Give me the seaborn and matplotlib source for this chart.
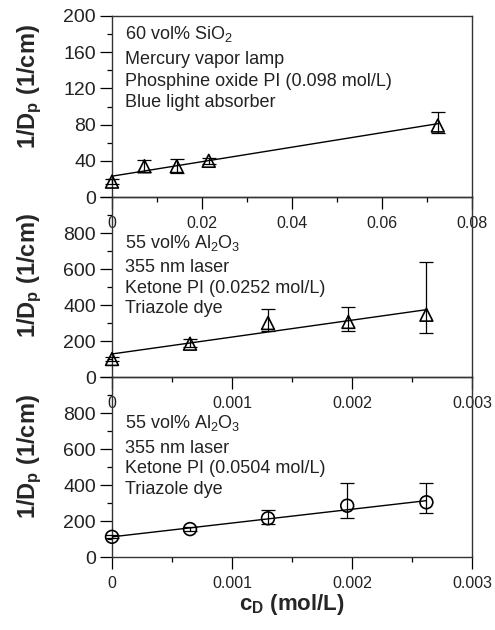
import matplotlib
matplotlib.use("Agg")
import matplotlib.pyplot as plt
from matplotlib.ticker import MultipleLocator
import seaborn as sns

sns.set_theme(style="ticks")
plt.rcParams["font.family"] = ["Liberation Sans", "DejaVu Sans"]
plt.rcParams["mathtext.fontset"] = "custom"
plt.rcParams["mathtext.rm"] = "Liberation Sans"
plt.rcParams["mathtext.it"] = "Liberation Sans"
plt.rcParams["mathtext.bf"] = "Liberation Sans:bold"

# --- Panel 1: 60 vol% SiO2, mercury vapor lamp ---
cd_sio2 = [0.0, 0.0072, 0.0144, 0.0215, 0.0724]
inv_dp_sio2 = [17, 34, 34, 40, 79]
err_lo_sio2 = [3, 6, 7, 3, 8]
err_hi_sio2 = [3, 7, 8, 3, 15]
fit_x_sio2 = [0.0, 0.0724]
fit_y_sio2 = [23, 81]

# --- Panel 2: 55 vol% Al2O3, ketone PI 0.0252 mol/L ---
cd_al_a = [0.0, 0.00065, 0.0013, 0.00197, 0.00262]
inv_dp_al_a = [100, 185, 300, 306, 346]
err_lo_al_a = [10, 20, 45, 48, 104]
err_hi_al_a = [10, 24, 76, 85, 291]
fit_x_al_a = [0.0, 0.00262]
fit_y_al_a = [128, 374]

# --- Panel 3: 55 vol% Al2O3, ketone PI 0.0504 mol/L ---
cd_al_b = [0.0, 0.00065, 0.0013, 0.00196, 0.00262]
inv_dp_al_b = [112, 155, 215, 285, 304]
err_lo_al_b = [8, 12, 30, 70, 61]
err_hi_al_b = [8, 12, 47, 126, 107]
fit_x_al_b = [0.0, 0.00262]
fit_y_al_b = [112, 313]

labels_sio2 = ["60 vol% SiO$_2$", "Mercury vapor lamp",
               "Phosphine oxide PI (0.098 mol/L)", "Blue light absorber"]
labels_al_a = ["55 vol% Al$_2$O$_3$", "355 nm laser",
               "Ketone PI (0.0252 mol/L)", "Triazole dye"]
labels_al_b = ["55 vol% Al$_2$O$_3$", "355 nm laser",
               "Ketone PI (0.0504 mol/L)", "Triazole dye"]

x_ticks_sio2 = [0, 0.02, 0.04, 0.06, 0.08]
x_ticklabels_sio2 = ["0", "0.02", "0.04", "0.06", "0.08"]
x_ticks_al = [0, 0.001, 0.002, 0.003]
x_ticklabels_al = ["0", "0.001", "0.002", "0.003"]
y_ticks_sio2 = [0, 40, 80, 120, 160, 200]
y_ticks_al = [0, 200, 400, 600, 800, 1000]
y_ticklabels_al = ["0", "200", "400", "600", "800", ""]

W, H = 495, 630
fig = plt.figure(figsize=(W / 100, H / 100), dpi=100)
fig.patch.set_facecolor("white")

left, right = 112, 472
bands = [(16, 197), (197, 377), (377, 557)]
axes = []
for top, bottom in bands:
    ax = fig.add_axes([left / W, 1 - bottom / H, (right - left) / W, (bottom - top) / H])
    ax.patch.set_visible(False)
    axes.append(ax)

panels = [
    (axes[0], cd_sio2, inv_dp_sio2, err_lo_sio2, err_hi_sio2, fit_x_sio2, fit_y_sio2, "^", labels_sio2,
     (0, 0.08), x_ticks_sio2, x_ticklabels_sio2, 0.01, (0, 200), y_ticks_sio2,
     [str(v) for v in y_ticks_sio2], 20, [23, 48, 70, 91], 0.61),
    (axes[1], cd_al_a, inv_dp_al_a, err_lo_al_a, err_hi_al_a, fit_x_al_a, fit_y_al_a, "^", labels_al_a,
     (0, 0.003), x_ticks_al, x_ticklabels_al, 0.0005, (0, 1000), y_ticks_al,
     y_ticklabels_al, 100, [51, 75, 96, 116], 0.565),
    (axes[2], cd_al_b, inv_dp_al_b, err_lo_al_b, err_hi_al_b, fit_x_al_b, fit_y_al_b, "o", labels_al_b,
     (0, 0.003), x_ticks_al, x_ticklabels_al, 0.0005, (0, 1000), y_ticks_al,
     y_ticklabels_al, 100, [51, 76, 96, 117], 0.555),
]

for (ax, x, y, lo, hi, fx, fy, mk, lines, xlim, xt, xtl, xminor,
     ylim, yt, ytl, yminor, offs, ylab_pos) in panels:
    sns.lineplot(x=fx, y=fy, ax=ax, color="black", linewidth=1.0, zorder=2)
    eb = ax.errorbar(x, y, yerr=[lo, hi], fmt="none", ecolor="black",
                     elinewidth=0.9, capsize=4.7, capthick=0.9, zorder=3)
    for artist in eb.lines[1] + eb.lines[2]:
        artist.set_clip_on(False)
    sns.scatterplot(x=x, y=y, ax=ax, marker=mk, s=85, facecolors="none",
                    edgecolor="black", linewidth=1.2, zorder=4, clip_on=False)

    ax.set_xlim(*xlim)
    ax.set_ylim(*ylim)
    ax.set_xticks(xt, labels=xtl)
    ax.set_yticks(yt, labels=ytl)
    ax.xaxis.set_minor_locator(MultipleLocator(xminor))
    ax.yaxis.set_minor_locator(MultipleLocator(yminor))
    ax.tick_params(which="major", direction="out", length=8.6, width=0.9, color="black")
    ax.tick_params(which="minor", direction="out", length=3.6, width=0.9, color="black")
    ax.tick_params(axis="x", labelsize=11.5, pad=5, labelcolor="#222222")
    ax.tick_params(axis="y", labelsize=14, pad=3, labelcolor="#222222")
    ax.tick_params(top=False, right=False, which="both")
    for sp in ax.spines.values():
        sp.set_color("#333333")
        sp.set_linewidth(1.0)

    for line, off in zip(lines, offs):
        ax.annotate(line, xy=(0, 1), xycoords="axes fraction",
                    xytext=(13, -off), textcoords="offset pixels",
                    ha="left", va="baseline", fontsize=13, color="#222222")

    ax.set_ylabel("1/D$_\\mathbf{p}$ (1/cm)", fontsize=17, fontweight="bold")
    ax.yaxis.set_label_coords(-0.188, ylab_pos)
    ax.set_xlabel("")

axes[2].set_xlabel("c$_\\mathbf{D}$ (mol/L)", fontsize=16, fontweight="bold", labelpad=1)

fig.savefig("out.png", dpi=100, facecolor="white")
